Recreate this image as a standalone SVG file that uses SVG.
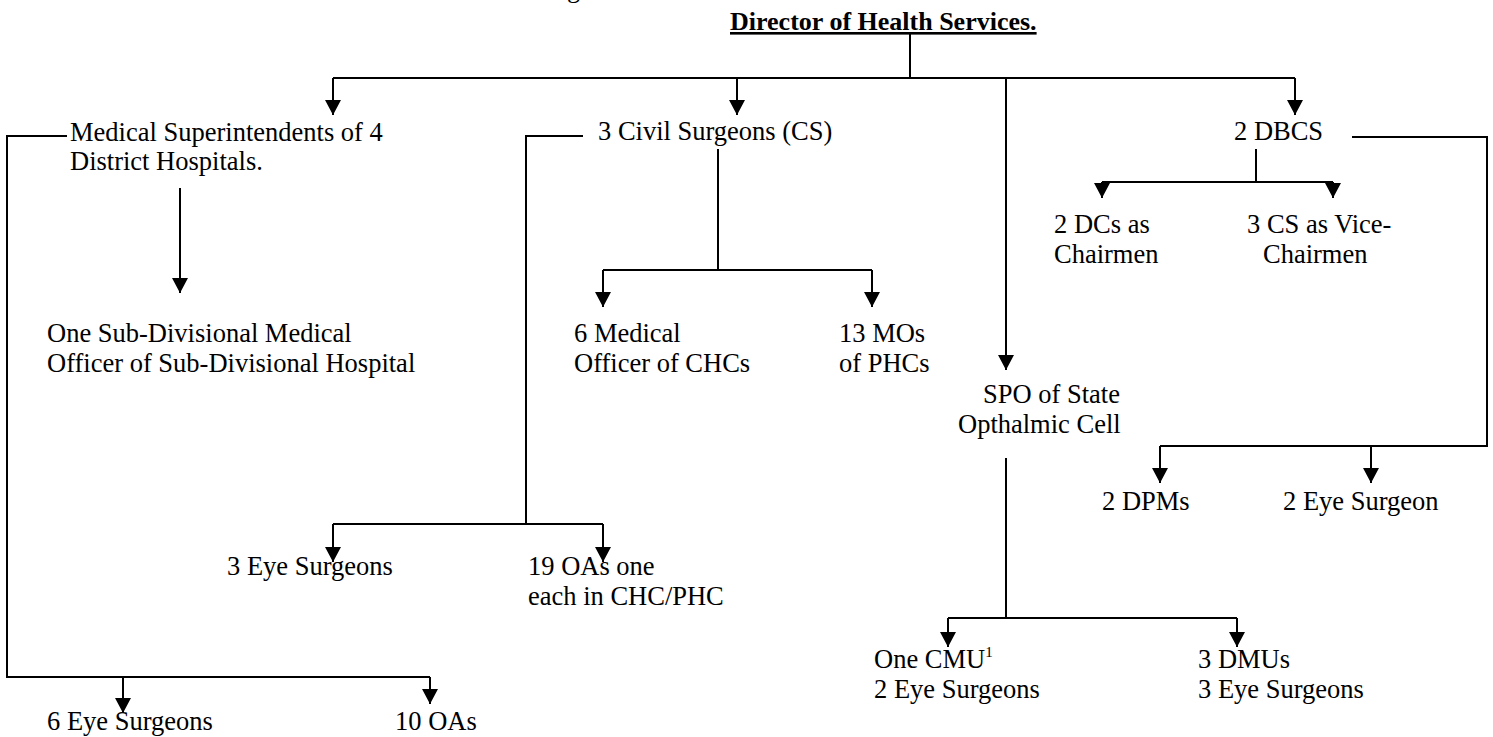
<svg xmlns="http://www.w3.org/2000/svg" width="1493" height="737" viewBox="0 0 1493 737">
  <style>
    .t { font-family: "Liberation Serif", "Times New Roman", serif; font-size: 26.5px; fill: #000; }
    .title { font-family: "Liberation Serif", "Times New Roman", serif; font-size: 26px; font-weight: bold; fill: #000; text-decoration: underline; }
    .sup { font-family: "Liberation Serif", "Times New Roman", serif; font-size: 15px; fill: #000; }
    .ln { fill: none; stroke: #000; stroke-width: 2; }
    .ar { fill: none; stroke: #000; stroke-width: 2; marker-end: url(#head); }
  </style>
  <defs>
    <marker id="head" viewBox="0 0 15 16" refX="15" refY="8" markerWidth="15" markerHeight="16" markerUnits="userSpaceOnUse" orient="auto">
      <path d="M0,0 L15,8 L0,16 z" fill="#000"/>
    </marker>
  </defs>
  <rect width="1493" height="737" fill="#fff"/>

  <!-- heading line cut at the top edge -->
  <text class="t" x="567" y="-3">g</text>

  <g id="director">
    <text class="title" x="730" y="30">Director of Health Services.</text>
  </g>

  <g id="connectors">
    <!-- director to the four branches -->
    <path class="ln" d="M910,34 V78"/>
    <path class="ln" d="M333,78 H1295"/>
    <path class="ar" d="M333,78 V115"/>
    <path class="ar" d="M737,78 V115"/>
    <path class="ar" d="M1006,78 V370"/>
    <path class="ar" d="M1295,78 V115"/>

    <!-- medical superintendents -->
    <path class="ar" d="M180,188 V293"/>
    <path class="ln" d="M67,136 H7 V677 H430"/>
    <path class="ar" d="M123,677 V713"/>
    <path class="ar" d="M430,677 V704"/>

    <!-- civil surgeons -->
    <path class="ln" d="M718,149 V270"/>
    <path class="ln" d="M603,270 H872"/>
    <path class="ar" d="M603,270 V307"/>
    <path class="ar" d="M872,270 V307"/>
    <path class="ln" d="M583,136 H526 V524"/>
    <path class="ln" d="M333,524 H603"/>
    <path class="ar" d="M333,524 V562"/>
    <path class="ar" d="M603,524 V562"/>

    <!-- DBCS -->
    <path class="ln" d="M1256,149 V182"/>
    <path class="ln" d="M1102,182 H1333"/>
    <path class="ar" d="M1102,182 V198"/>
    <path class="ar" d="M1333,182 V198"/>
    <path class="ln" d="M1352,137 H1487 V446 H1160"/>
    <path class="ar" d="M1160,446 V483"/>
    <path class="ar" d="M1371,446 V483"/>

    <!-- SPO -->
    <path class="ln" d="M1006,458 V618"/>
    <path class="ln" d="M948,618 H1237"/>
    <path class="ar" d="M948,618 V647"/>
    <path class="ar" d="M1237,618 V647"/>
  </g>

  <g id="med-supt">
    <text class="t" x="70" y="141">Medical Superintendents of 4</text>
    <text class="t" x="70" y="170">District Hospitals.</text>
  </g>
  <g id="sdmo">
    <text class="t" x="47" y="342">One Sub-Divisional Medical</text>
    <text class="t" x="47" y="372">Officer of Sub-Divisional Hospital</text>
  </g>
  <g id="ms-eye">
    <text class="t" x="47" y="730">6 Eye Surgeons</text>
  </g>
  <g id="ms-oa">
    <text class="t" x="395" y="730">10 OAs</text>
  </g>

  <g id="civil-surgeons">
    <text class="t" x="598" y="140">3 Civil Surgeons (CS)</text>
  </g>
  <g id="mo-chc">
    <text class="t" x="574" y="342">6 Medical</text>
    <text class="t" x="574" y="372">Officer of CHCs</text>
  </g>
  <g id="mo-phc">
    <text class="t" x="839" y="342">13 MOs</text>
    <text class="t" x="839" y="372">of PHCs</text>
  </g>
  <g id="cs-eye">
    <text class="t" x="227" y="575">3 Eye Surgeons</text>
  </g>
  <g id="cs-oa">
    <text class="t" x="528" y="575">19 OAs one</text>
    <text class="t" x="528" y="605">each in CHC/PHC</text>
  </g>

  <g id="spo">
    <text class="t" x="983" y="403">SPO of State</text>
    <text class="t" x="958" y="433">Opthalmic Cell</text>
  </g>
  <g id="cmu">
    <text class="t" x="874" y="668">One CMU<tspan class="sup" dy="-11">1</tspan></text>
    <text class="t" x="874" y="698">2 Eye Surgeons</text>
  </g>
  <g id="dmu">
    <text class="t" x="1198" y="668">3 DMUs</text>
    <text class="t" x="1198" y="698">3 Eye Surgeons</text>
  </g>

  <g id="dbcs">
    <text class="t" x="1234" y="140">2 DBCS</text>
  </g>
  <g id="dc">
    <text class="t" x="1054" y="233">2 DCs as</text>
    <text class="t" x="1054" y="263">Chairmen</text>
  </g>
  <g id="vice">
    <text class="t" x="1247" y="233">3 CS as Vice-</text>
    <text class="t" x="1263" y="263">Chairmen</text>
  </g>
  <g id="dpm">
    <text class="t" x="1102" y="510">2 DPMs</text>
  </g>
  <g id="dbcs-eye">
    <text class="t" x="1283" y="510">2 Eye Surgeon</text>
  </g>
</svg>
